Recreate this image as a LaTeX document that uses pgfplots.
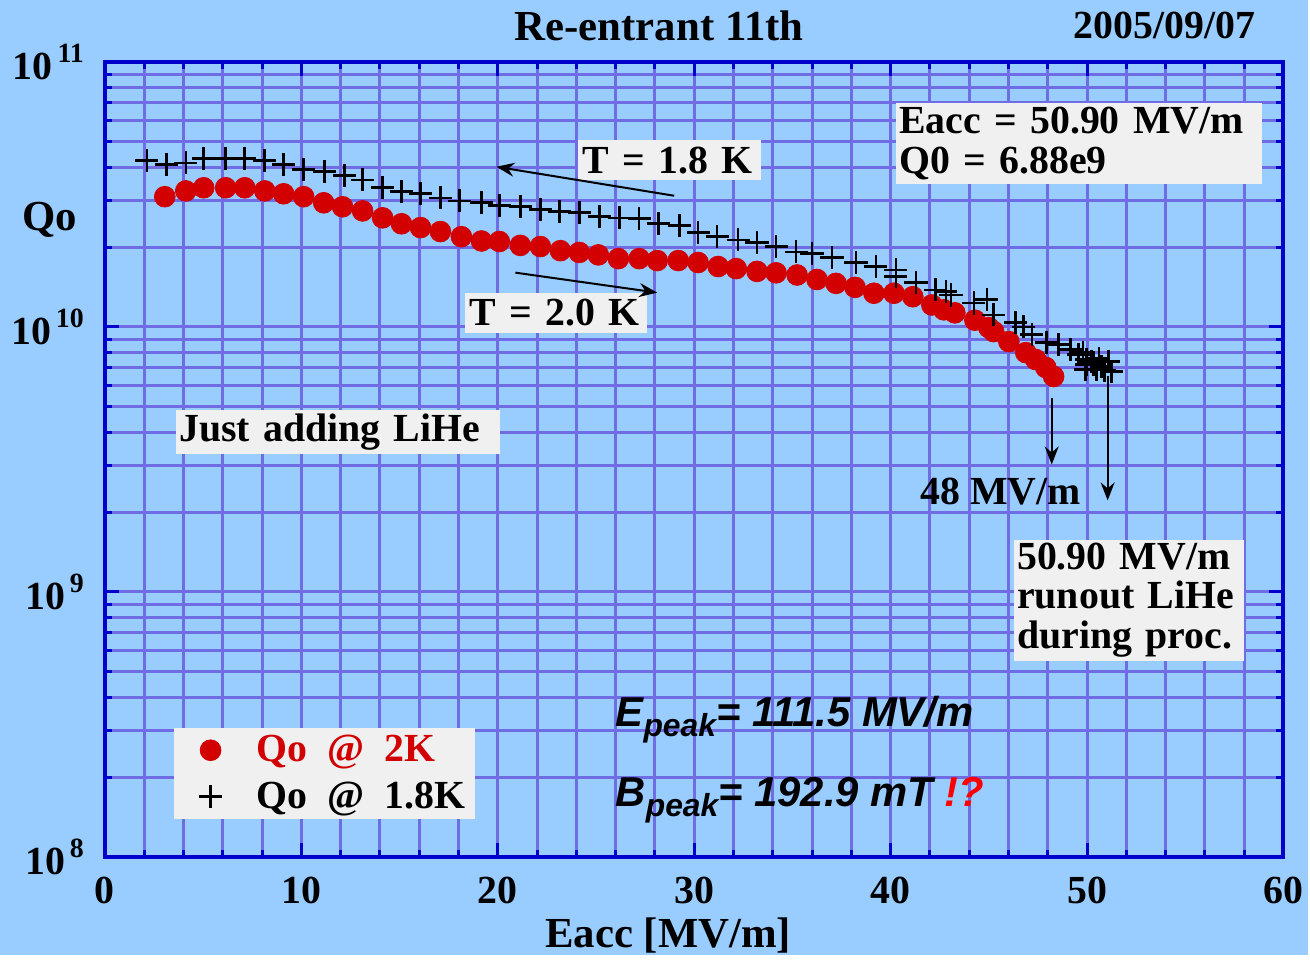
\documentclass[border=0pt]{standalone}
\usepackage{pgfplots}
\pgfplotsset{compat=1.18}
\usepackage{fontspec}
\setmainfont{Liberation Serif}
\setsansfont{Liberation Sans}
\usetikzlibrary{arrows.meta}
\definecolor{bgblue}{RGB}{153,204,255}
\definecolor{axblue}{RGB}{0,0,204}
\definecolor{gridc}{RGB}{112,108,228}
\definecolor{boxgray}{RGB}{240,240,240}
\definecolor{dotred}{RGB}{210,0,0}
\newcommand\bigf{\fontsize{20}{23}\selectfont\bfseries}
\newcommand\titf{\fontsize{21.5}{24}\selectfont\bfseries}
\newcommand\ylab[1]{\bfseries 10\hspace{2.5bp}\raisebox{0.42em}{\fontsize{14}{14}\selectfont\bfseries #1}}

\pgfplotstableread{
x y
3.05 3.10e10
4.12 3.26e10
5.03 3.35e10
6.15 3.35e10
7.12 3.35e10
8.14 3.26e10
9.10 3.18e10
10.12 3.10e10
11.14 2.94e10
12.10 2.84e10
13.12 2.74e10
14.14 2.58e10
15.10 2.45e10
16.07 2.37e10
17.08 2.29e10
18.15 2.19e10
19.17 2.11e10
20.08 2.10e10
21.15 2.03e10
22.17 2.01e10
23.19 1.94e10
24.15 1.91e10
25.12 1.87e10
26.14 1.81e10
27.20 1.81e10
28.12 1.78e10
29.19 1.78e10
30.20 1.75e10
31.22 1.69e10
32.14 1.66e10
33.20 1.62e10
34.17 1.60e10
35.24 1.57e10
36.25 1.51e10
37.22 1.46e10
38.19 1.41e10
39.15 1.34e10
40.17 1.34e10
41.13 1.30e10
42.10 1.21e10
42.71 1.16e10
43.27 1.13e10
44.29 1.06e10
45.00 9.94e9
45.25 9.60e9
46.02 8.80e9
46.88 8.00e9
47.39 7.53e9
47.90 7.03e9
48.30 6.50e9
}\twoK

\pgfplotstableread{
x y
2.14 4.24e10
3.15 4.09e10
4.12 4.16e10
5.03 4.31e10
6.15 4.31e10
7.12 4.31e10
8.14 4.24e10
9.10 4.09e10
10.12 3.92e10
11.19 3.85e10
12.20 3.72e10
13.12 3.59e10
14.14 3.35e10
15.10 3.24e10
16.07 3.18e10
17.08 3.07e10
18.05 2.99e10
19.17 2.94e10
20.08 2.87e10
21.15 2.84e10
22.17 2.77e10
23.14 2.72e10
24.15 2.70e10
25.17 2.61e10
26.19 2.58e10
27.20 2.56e10
28.17 2.45e10
29.24 2.41e10
30.20 2.27e10
31.17 2.19e10
32.24 2.13e10
33.20 2.08e10
34.17 2.01e10
35.19 1.92e10
36.00 1.89e10
37.02 1.83e10
38.24 1.75e10
39.25 1.69e10
40.27 1.64e10
40.27 1.55e10
41.29 1.47e10
42.30 1.38e10
42.81 1.36e10
43.07 1.32e10
44.24 1.23e10
44.90 1.27e10
45.25 1.11e10
46.37 1.04e10
46.78 1.00e10
47.19 9.36e9
47.95 8.73e9
48.56 8.58e9
49.17 8.21e9
49.58 7.87e9
49.80 8.00e9
49.98 7.53e9
50.00 7.20e9
50.24 7.40e9
50.34 7.21e9
49.93 6.91e9
50.49 6.91e9
50.60 7.60e9
50.75 7.09e9
50.90 6.88e9
51.10 7.40e9
51.25 6.79e9
}\oneEight

\begin{document}
\begin{tikzpicture}
\begin{scope}[shift={(-52.5bp,429bp)},x=0.5bp,y=-0.5bp]
\fill[bgblue] (0,0) rectangle (1310,956);
\path[use as bounding box] (0,0) rectangle (1310,956);
\end{scope}
\begin{axis}[
  scale only axis, width=590bp, height=398bp,
  at={(0,0)}, anchor=south west,
  ymode=log, xmin=0, xmax=60, ymin=1e8, ymax=1e11,
  xtick={0,10,...,60}, minor x tick num=4,
  ytick={1e8,1e9,1e10,1e11},
  yticklabels={\ylab{8},\ylab{9},\ylab{10},\ylab{11}},
  xticklabel style={font=\bigf, yshift=-6.5bp},
  yticklabel style={font=\bigf, xshift=-7bp},
  xticklabel={\pgfmathprintnumber[assume math mode=true]{\tick}},
  grid=both,
  major grid style={draw=gridc, line width=1.5bp},
  minor grid style={draw=gridc, line width=1.5bp},
  axis line style={draw=axblue, line width=2bp},
  every tick/.style={draw=axblue, line width=1.5bp},
  major tick length=7bp, minor tick length=3.5bp,
  tick align=inside,
  legend style={at={(rel axis cs:0.0585,0.1633)}, anchor=north west,
     fill=boxgray, draw=none, inner xsep=3bp, inner ysep=2bp,
     font=\bigf, row sep=4.5bp},
  legend cell align=left,
  legend image code/.code={%
     \path (0bp,0bp) (36bp,0bp);
     \draw[#1] plot[only marks] coordinates {(15bp,0bp)};},
]
\addplot[only marks, mark=*, mark size=5.2bp, mark options={draw=dotred, fill=dotred}] table {\twoK};
\addlegendentry{\textcolor{dotred}{Qo\ \ @\ \ 2K}}
\addplot[only marks, mark=+, mark size=5.8bp, mark options={draw=black, line width=1.3bp}] table {\oneEight};
\addlegendentry{Qo\ \ @\ \ 1.8K}
\end{axis}

\begin{scope}[shift={(-52.5bp,429bp)},x=0.5bp,y=-0.5bp]
\node[font=\titf] at (660,26) {Re-entrant 11th};
\node[font=\bigf] at (1166,26) {2005/09/07};
\node[font=\titf] at (50,220) {Qo};
\node[font=\titf] at (669,937) {Eacc [MV/m]};
% boxes
\node[anchor=north west, fill=boxgray, font=\bigf, inner xsep=1.5bp, inner ysep=2bp,
      text width=180bp, align=left] at (897,103) {Eacc = 50.90 MV/m\\[-3bp]Q0 = 6.88e9};
\node[anchor=north west, fill=boxgray, font=\bigf, inner xsep=2.5bp, inner ysep=0bp,
      text width=87bp, align=left, minimum height=20bp] at (578,140) {T = 1.8 K};
\node[anchor=north west, fill=boxgray, font=\bigf, inner xsep=2.5bp, inner ysep=0bp,
      text width=86bp, align=left, minimum height=20bp] at (465,293) {T = 2.0 K};
\node[anchor=north west, fill=boxgray, font=\bigf, inner xsep=1.5bp, inner ysep=0bp,
      text width=159bp, align=left, minimum height=22bp] at (176,410) {Just adding LiHe};
\node[anchor=north west, fill=boxgray, font=\bigf, inner xsep=1.5bp, inner ysep=1.5bp,
      text width=112bp, align=left] at (1015,540) {50.90 MV/m\\[-3bp]runout LiHe\\[-3bp]during proc.};
\node[font=\bigf] at (1002,492) {48 MV/m};
% arrows
\draw[black, line width=1bp, -{Stealth[length=9bp, width=7bp, inset=3bp]}] (675,196) -- (497,167);
\draw[black, line width=1bp, -{Stealth[length=9bp, width=7bp, inset=3bp]}] (516,273) -- (658,293);
\draw[black, line width=1bp, -{Stealth[length=9bp, width=7bp, inset=3bp]}] (1053,398) -- (1053,465);
\draw[black, line width=1bp, -{Stealth[length=9bp, width=7bp, inset=3bp]}] (1109,376) -- (1109,501);
% Epeak / Bpeak
\node[anchor=base west, inner sep=0pt, font=\sffamily\bfseries\itshape\fontsize{21}{24}\selectfont] at (616,727)
  {E\raisebox{-0.25em}{\fontsize{16}{16}\selectfont peak}= 111.5 MV/m};
\node[anchor=base west, inner sep=0pt, font=\sffamily\bfseries\itshape\fontsize{21}{24}\selectfont] at (616,807)
  {B\raisebox{-0.25em}{\fontsize{16}{16}\selectfont peak}= 192.9 mT \textcolor{red}{!?}};
\end{scope}
\end{tikzpicture}
\end{document}
